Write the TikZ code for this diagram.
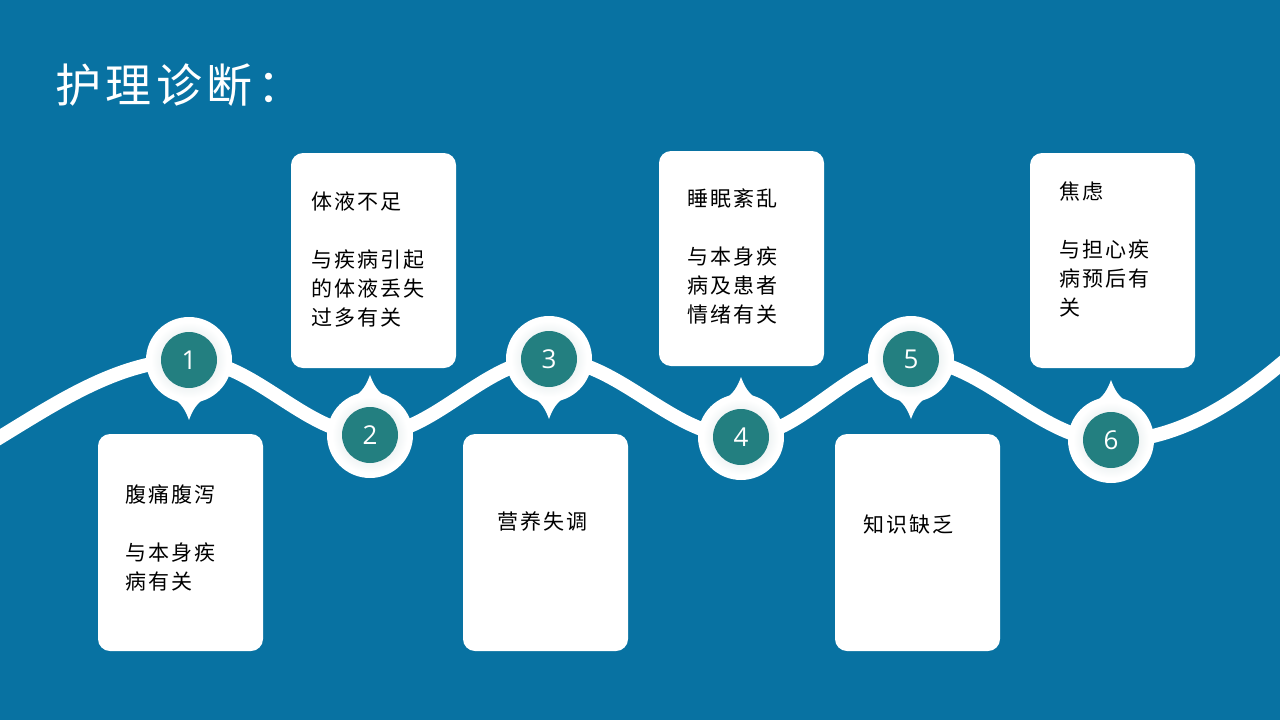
\documentclass[tikz,border=0pt]{standalone}
\usepackage{fontspec}
\newfontfamily\cjk[LetterSpace=10]{Noto Sans CJK SC}
\newfontfamily\numfont{Open Sans}
\definecolor{bgblue}{RGB}{8,114,162}
\definecolor{tealc}{RGB}{35,127,128}
\definecolor{ringgray}{RGB}{200,215,218}
\tikzset{
  card/.style={fill=white,rounded corners=12pt,minimum width=165pt,inner sep=0pt,draw=none},
  cardtext/.style={anchor=base west,inner sep=0pt,align=left,font=\cjk\fontsize{21}{29}\selectfont,text=black},
  numtext/.style={inner sep=0pt,font=\numfont\fontsize{26}{30}\selectfont,text=white},
  wave/.style={white,line width=14pt}
}
\newcommand\pinmark[5]{%
  \begin{scope}[shift={(#1,#2)},yscale=#3]
    \fill[white] (-20,36) .. controls (-7,42) and (-3,52) .. (0,60) .. controls (3,52) and (7,42) .. (20,36) -- cycle;
    \fill[white] (0,0) circle (43pt);
    \shade[inner color=ringgray,outer color=white] (0,0) circle (38pt);
    \fill[tealc] (0,0) circle (28pt);
  \end{scope}
  \node[numtext] (#5) at (#1,#2) {#4};
}
\begin{document}
\begin{tikzpicture}[x=1pt,y=-1pt]
\fill[bgblue] (0,0) rectangle (1280,720);
\useasboundingbox (0,0) rectangle (1280,720);
\node[anchor=base west,inner sep=0pt,text=white,font=\cjk\fontsize{46}{50}\selectfont] (title) at (55,102) {护理诊断：};
\begin{scope}
\clip (0,0) rectangle (1280,720);
\draw[wave] (-30,455) .. controls (40,415) and (110,360) .. (189,360)
  .. controls (254,360) and (305,435) .. (370,435)
  .. controls (434,435) and (485,359) .. (549,359)
  .. controls (618,359) and (672,437) .. (741,437)
  .. controls (802,437) and (850,359) .. (911,359)
  .. controls (983,359) and (1039,441) .. (1111,441)
  .. controls (1180,441) and (1240,400) .. (1295,352);
\end{scope}
% cards
\node[card,minimum height=217pt] (b1) at (180.5,542.5) {};
\node[card,minimum height=215pt] (b2) at (373.5,260.5) {};
\node[card,minimum height=217pt] (b3) at (545.5,542.5) {};
\node[card,minimum height=215pt] (b4) at (741.5,258.5) {};
\node[card,minimum height=217pt] (b5) at (917.5,542.5) {};
\node[card,minimum height=215pt] (b6) at (1112.5,260.5) {};
% markers
\pinmark{189}{360}{1}{1}{m1}
\pinmark{370}{435}{-1}{2}{m2}
\pinmark{549}{359}{1}{3}{m3}
\pinmark{741}{437}{-1}{4}{m4}
\pinmark{911}{359}{1}{5}{m5}
\pinmark{1111}{440}{-1}{6}{m6}
% texts (base = baseline of last line)
\node[cardtext] (t1) at (125,589) {腹痛腹泻\\[29pt]与本身疾\\病有关};
\node[cardtext] (t2) at (311,325) {体液不足\\[29pt]与疾病引起\\的体液丢失\\过多有关};
\node[cardtext] (t3) at (497,529) {营养失调};
\node[cardtext] (t4) at (687,322) {睡眠紊乱\\[29pt]与本身疾\\病及患者\\情绪有关};
\node[cardtext] (t5) at (863,532) {知识缺乏};
\node[cardtext] (t6) at (1059,315) {焦虑\\[29pt]与担心疾\\病预后有\\关};
\end{tikzpicture}
\end{document}
